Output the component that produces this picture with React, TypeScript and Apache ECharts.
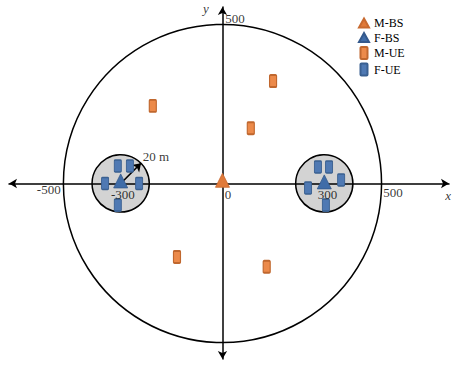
import React, { useEffect, useRef } from "react";
import * as echarts from "echarts";

// Macro base station (centre of macro cell)
const macroBS: number[][] = [[0, 10]];
// Femto base stations
const femtoBS: number[][] = [[-320, 8], [320, 5]];
// Macro users
const macroUE: number[][] = [[-219, 244], [159, 322], [89, 174], [-143, -231], [139, -262]];
// Femto users
const femtoUE: number[][] = [
  [-329, 55], [-291, 55], [-369, 0], [-262, 0], [-329, -68],
  [300, 52], [335, 52], [373, 11], [269, -14], [325, -68],
];
// Cells: [centerX, centerY, radius]
const cells: number[][] = [[0, 0, 500], [-320, 0, 90], [320, 0, 90]];
// Radius arrow of femto cell
const radiusArrow: number[][] = [[-320, 0], [-256, 64]];
// Annotation texts: [x, y, text]
const annotations: [number, number, string][] = [
  [-313, -36, "-300"],
  [330, -36, "300"],
  [17, -36, "0"],
  [536, -27, "500"],
  [-546, -20, "-500"],
  [39, 520, "500"],
  [-209, 86, "20 m"],
];
const axisNames: [number, number, string][] = [
  [709, -39, "x"],
  [-52, 549, "y"],
];

const FONT = "Liberation Serif";
const ORANGE = "#ec8a4a";
const ORANGE_DARK = "#c0672e";
const BLUE = "#4f79b3";
const BLUE_DARK = "#3a6091";
const UE_ICON =
  "path://M1,0 h5 a1,1 0 0 1 1,1 v10 a1,1 0 0 1 -1,1 h-5 a1,1 0 0 1 -1,-1 v-10 a1,1 0 0 1 1,-1z";
const TRI_ICON = "path://M5,0 L10,9 L0,9 Z";

export default function App() {
  const ref = useRef<HTMLDivElement>(null);
  useEffect(() => {
    if (!ref.current) return;
    const chart = echarts.init(ref.current, null, { renderer: "svg" });
    const axisLine = {
      onZero: true,
      symbol: ["arrow", "arrow"],
      symbolSize: [7, 8],
      lineStyle: { color: "#000", width: 1.5 },
    };
    chart.setOption({
      animation: false,
      backgroundColor: "#fff",
      grid: { left: 9, right: 9, top: 7, bottom: 12 },
      xAxis: {
        type: "value",
        min: -671,
        max: 712,
        z: 3,
        axisLine,
        axisTick: { show: false },
        axisLabel: { show: false },
        splitLine: { show: false },
      },
      yAxis: {
        type: "value",
        min: -552,
        max: 555,
        z: 3,
        axisLine,
        axisTick: { show: false },
        axisLabel: { show: false },
        splitLine: { show: false },
      },
      legend: {
        orient: "vertical",
        left: 358,
        top: 17,
        padding: 0,
        itemGap: 2.5,
        itemWidth: 10,
        itemHeight: 12,
        symbolKeepAspect: true,
        textStyle: { fontFamily: FONT, fontSize: 12, color: "#000" },
        data: [
          { name: "M-BS", icon: TRI_ICON },
          { name: "F-BS", icon: TRI_ICON },
          { name: "M-UE", icon: UE_ICON },
          { name: "F-UE", icon: UE_ICON },
        ],
      },
      series: [
        {
          type: "custom",
          name: "cells",
          z: 1,
          silent: true,
          data: cells,
          renderItem: (params: any, api: any) => {
            const c = api.coord([api.value(0), api.value(1)]);
            const r = api.size([api.value(2), 0])[0];
            return {
              type: "circle",
              shape: { cx: c[0], cy: c[1], r },
              style: {
                fill: params.dataIndex === 0 ? "none" : "#d3d3d3",
                stroke: "#000",
                lineWidth: 1.5,
              },
            };
          },
        },
        {
          type: "lines",
          coordinateSystem: "cartesian2d",
          z: 4,
          symbol: ["none", "arrow"],
          symbolSize: 8,
          lineStyle: { color: "#000", width: 1.5, opacity: 1 },
          data: [{ coords: radiusArrow }],
        },
        {
          type: "scatter",
          name: "M-UE",
          z: 5,
          symbol: UE_ICON,
          symbolSize: [7, 12],
          itemStyle: { color: ORANGE, borderColor: ORANGE_DARK, borderWidth: 1.5, opacity: 1 },
          data: macroUE,
        },
        {
          type: "scatter",
          name: "F-UE",
          z: 5,
          symbol: UE_ICON,
          symbolSize: [7, 12],
          itemStyle: { color: BLUE, borderColor: BLUE_DARK, borderWidth: 1.2, opacity: 1 },
          data: femtoUE,
        },
        {
          type: "scatter",
          name: "M-BS",
          z: 6,
          symbol: "triangle",
          symbolSize: [14, 14],
          itemStyle: { color: "#e07a3a", borderColor: "#c86a30", borderWidth: 0.8, opacity: 1 },
          data: macroBS,
        },
        {
          type: "scatter",
          name: "F-BS",
          z: 6,
          symbol: "triangle",
          symbolSize: [14, 14],
          itemStyle: { color: "#3f6ca8", borderColor: "#34598c", borderWidth: 0.8, opacity: 1 },
          data: femtoBS,
        },
        {
          type: "scatter",
          name: "labels",
          z: 7,
          clip: false,
          silent: true,
          symbolSize: 0,
          label: {
            show: true,
            position: "inside",
            formatter: (p: any) => p.value[2],
            fontFamily: FONT,
            fontSize: 13,
            color: "#000",
          },
          data: annotations,
        },
        {
          type: "scatter",
          name: "axisNames",
          z: 7,
          clip: false,
          silent: true,
          symbolSize: 0,
          label: {
            show: true,
            position: "inside",
            formatter: (p: any) => p.value[2],
            fontFamily: FONT,
            fontStyle: "italic",
            fontSize: 13,
            color: "#000",
          },
          data: axisNames,
        },
      ],
    });
    return () => chart.dispose();
  }, []);
  return (
    <div
      ref={ref}
      style={{ position: "fixed", left: 0, top: 0, width: 458, height: 371, background: "#fff" }}
    />
  );
}
